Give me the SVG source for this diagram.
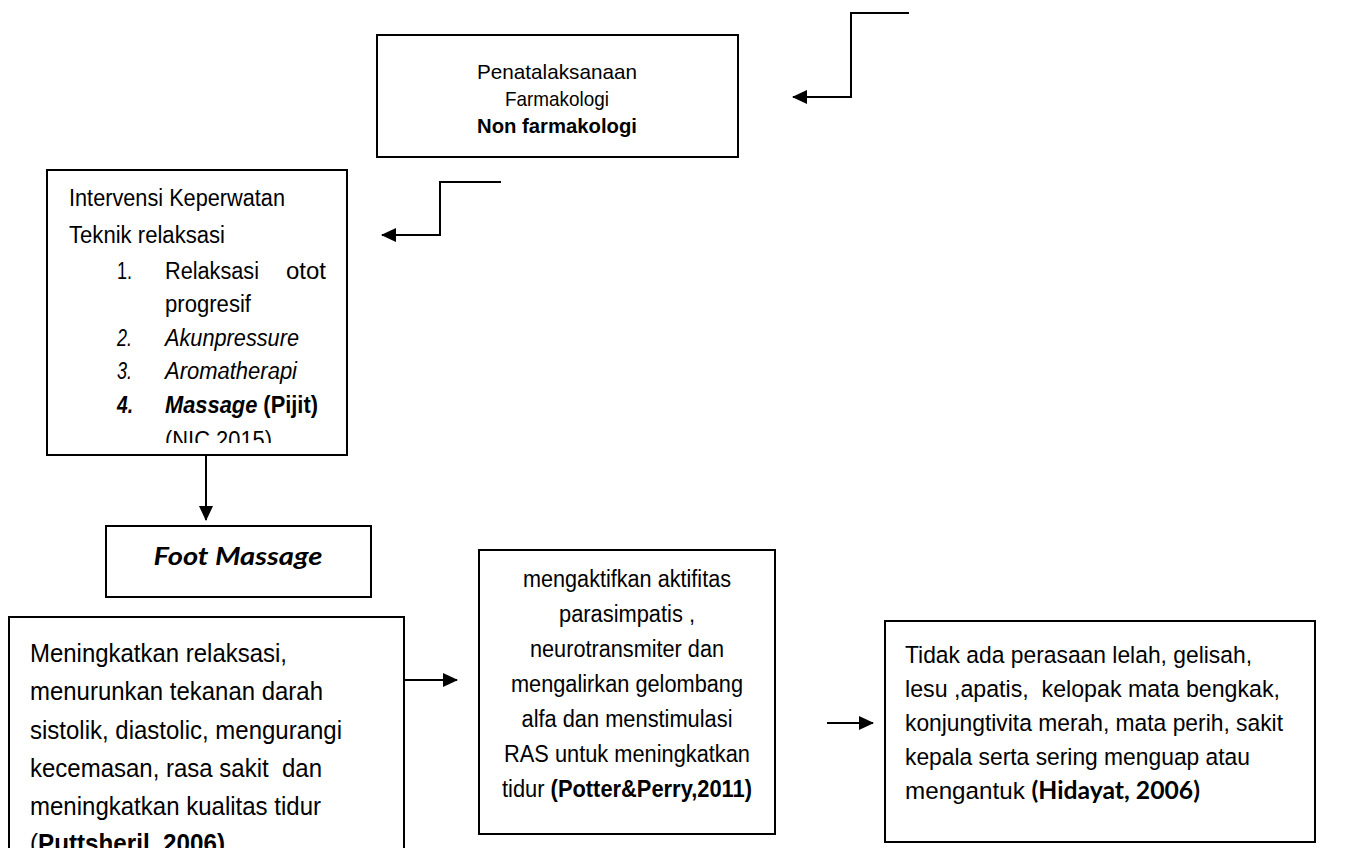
<svg xmlns="http://www.w3.org/2000/svg" width="1349" height="848" viewBox="0 0 1349 848">
<style>
.box{fill:#fff;stroke:#000;stroke-width:2}
.t{font-family:"Liberation Sans",Arial,sans-serif;fill:#000}
.c{text-anchor:middle}
.b{font-weight:bold}
.i{font-style:italic}
.cal{font-family:Lato,"Open Sans",sans-serif;font-weight:bold}
.con{fill:none;stroke:#000;stroke-width:2;marker-end:url(#ah)}
</style>
<defs>
<marker id="ah" viewBox="0 0 15 14" refX="14" refY="7" markerWidth="15" markerHeight="14" orient="auto" markerUnits="userSpaceOnUse"><path d="M0,0 L15,7 L0,14 z" fill="#000"/></marker>
<clipPath id="clipInt"><rect x="47" y="170" width="300" height="273"/></clipPath>
</defs>
<rect width="1349" height="848" fill="#fff"/>
<g id="connectors">
<path class="con" d="M909,13 H851 V97 H793"/>
<path class="con" d="M501,182 H440 V235 H382"/>
<path class="con" d="M206,455 V520"/>
<path class="con" d="M404,680 H457"/>
<path class="con" d="M827,723 H873"/>
</g>
<g id="node-penatalaksanaan">
<rect class="box" x="377" y="35" width="361" height="122"/>
<g class="t c" font-size="21">
<text x="557" y="79" textLength="160" lengthAdjust="spacingAndGlyphs">Penatalaksanaan</text>
<text x="557" y="106" textLength="104" lengthAdjust="spacingAndGlyphs">Farmakologi</text>
<text x="557" y="133" class="b" textLength="160" lengthAdjust="spacingAndGlyphs">Non farmakologi</text>
</g>
</g>
<g id="node-intervensi">
<rect class="box" x="47" y="170" width="300" height="285"/>
<g clip-path="url(#clipInt)" class="t" font-size="23">
<text x="69" y="206" textLength="216" lengthAdjust="spacingAndGlyphs">Intervensi Keperwatan</text>
<text x="69" y="243" textLength="156" lengthAdjust="spacingAndGlyphs">Teknik relaksasi</text>
<text x="117" y="279" textLength="15" lengthAdjust="spacingAndGlyphs">1.</text>
<text x="165" y="279" textLength="94" lengthAdjust="spacingAndGlyphs">Relaksasi</text>
<text x="326" y="279" text-anchor="end" textLength="40" lengthAdjust="spacingAndGlyphs">otot</text>
<text x="165" y="312" textLength="86" lengthAdjust="spacingAndGlyphs">progresif</text>
<text x="117" y="346" class="i" textLength="15" lengthAdjust="spacingAndGlyphs">2.</text>
<text x="165" y="346" class="i" textLength="134" lengthAdjust="spacingAndGlyphs">Akunpressure</text>
<text x="117" y="379" class="i" textLength="15" lengthAdjust="spacingAndGlyphs">3.</text>
<text x="165" y="379" class="i" textLength="132" lengthAdjust="spacingAndGlyphs">Aromatherapi</text>
<text x="117" y="413" class="i b" textLength="16" lengthAdjust="spacingAndGlyphs">4.</text>
<text x="165" y="413" class="b" textLength="153" lengthAdjust="spacingAndGlyphs"><tspan class="i">Massage</tspan> (Pijit)</text>
<text x="165" y="448" textLength="107" lengthAdjust="spacingAndGlyphs">(NIC,2015)</text>
</g>
</g>
<g id="node-foot-massage">
<rect class="box" x="106" y="526" width="265" height="71"/>
<text class="cal i c" x="238" y="565" font-size="25" textLength="169" lengthAdjust="spacingAndGlyphs">Foot Massage</text>
</g>
<g id="node-meningkatkan">
<rect class="box" x="9" y="617" width="395" height="250"/>
<g class="t" font-size="26">
<text x="30" y="662" textLength="257" lengthAdjust="spacingAndGlyphs">Meningkatkan relaksasi,</text>
<text x="30" y="700" textLength="293" lengthAdjust="spacingAndGlyphs">menurunkan tekanan darah</text>
<text x="30" y="739" textLength="312" lengthAdjust="spacingAndGlyphs">sistolik, diastolic, mengurangi</text>
<text x="30" y="777" textLength="292" lengthAdjust="spacingAndGlyphs" xml:space="preserve">kecemasan, rasa sakit  dan</text>
<text x="30" y="815" textLength="291" lengthAdjust="spacingAndGlyphs">meningkatkan kualitas tidur</text>
<text x="30" y="852" textLength="195" lengthAdjust="spacingAndGlyphs">(<tspan class="b">Puttsheril, 2006)</tspan></text>
</g>
</g>
<g id="node-parasimpatis">
<rect class="box" x="479" y="550" width="296" height="284"/>
<g class="t c" font-size="23">
<text x="627" y="587" textLength="208" lengthAdjust="spacingAndGlyphs">mengaktifkan aktifitas</text>
<text x="627" y="622" textLength="136" lengthAdjust="spacingAndGlyphs">parasimpatis ,</text>
<text x="627" y="657" textLength="194" lengthAdjust="spacingAndGlyphs">neurotransmiter dan</text>
<text x="627" y="692" textLength="232" lengthAdjust="spacingAndGlyphs">mengalirkan gelombang</text>
<text x="627" y="727" textLength="211" lengthAdjust="spacingAndGlyphs">alfa dan menstimulasi</text>
<text x="627" y="762" textLength="246" lengthAdjust="spacingAndGlyphs">RAS untuk meningkatkan</text>
<text x="627" y="797" textLength="250" lengthAdjust="spacingAndGlyphs">tidur <tspan class="b">(Potter&amp;Perry,2011)</tspan></text>
</g>
</g>
<g id="node-tidak-ada">
<rect class="box" x="885" y="621" width="430" height="221"/>
<g class="t" font-size="24.5">
<text x="905" y="663" textLength="347" lengthAdjust="spacingAndGlyphs">Tidak ada perasaan lelah, gelisah,</text>
<text x="905" y="697" textLength="375" lengthAdjust="spacingAndGlyphs" xml:space="preserve">lesu ,apatis,  kelopak mata bengkak,</text>
<text x="905" y="731" textLength="378" lengthAdjust="spacingAndGlyphs">konjungtivita merah, mata perih, sakit</text>
<text x="905" y="765" textLength="345" lengthAdjust="spacingAndGlyphs">kepala serta sering menguap atau</text>
<text x="905" y="799" textLength="295" lengthAdjust="spacingAndGlyphs">mengantuk <tspan class="cal" font-size="25">(Hidayat, 2006)</tspan></text>
</g>
</g>
</svg>
